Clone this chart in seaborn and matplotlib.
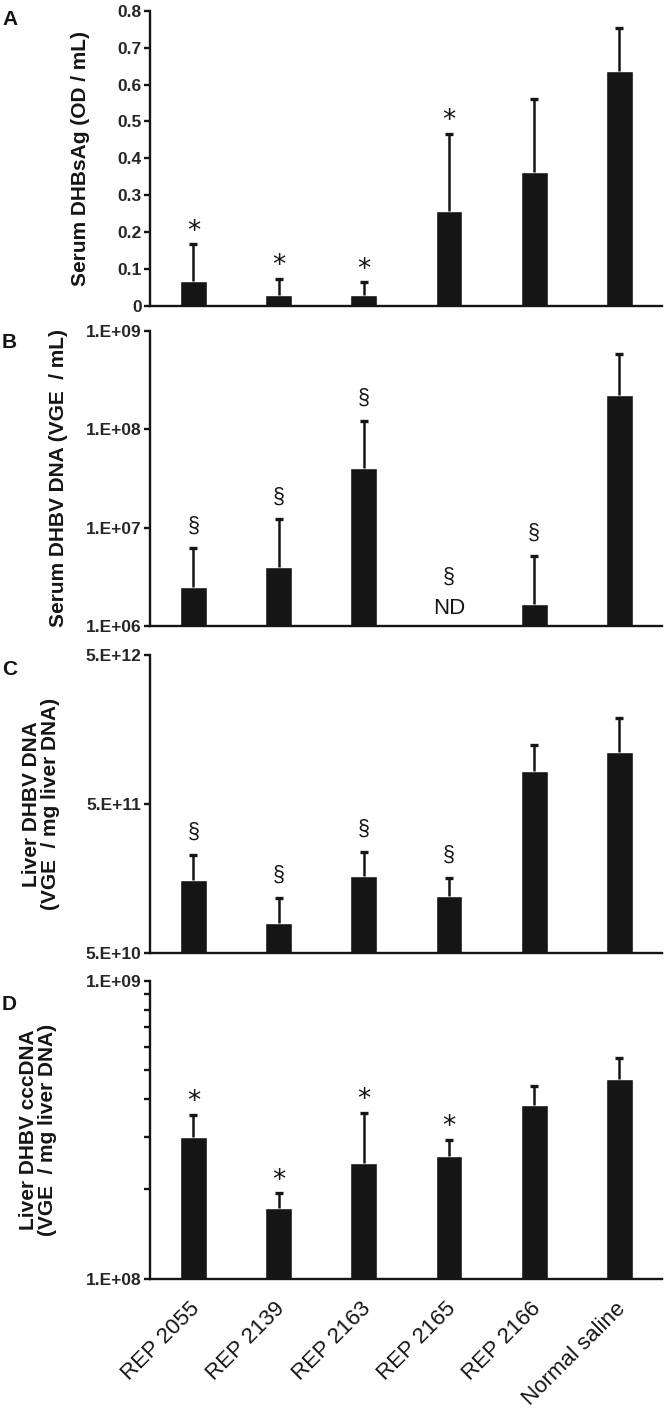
import numpy as np
import matplotlib
matplotlib.use('Agg')
import matplotlib.pyplot as plt
import matplotlib.ticker as mticker
import matplotlib.transforms as mtransforms
import seaborn as sns

sns.set_style('ticks')
plt.rcParams['font.family'] = ['Liberation Sans', 'DejaVu Sans']

groups = ['REP 2055', 'REP 2139', 'REP 2163', 'REP 2165', 'REP 2166', 'Normal saline']

# panel A - serum DHBsAg (OD / mL)
hbsag_mean = [0.069, 0.030, 0.030, 0.257, 0.363, 0.636]
hbsag_upper = [0.167, 0.074, 0.065, 0.466, 0.562, 0.753]
hbsag_marks = ['*', '*', '*', '*', '', '']

# panel B - serum DHBV DNA (VGE / mL), REP 2165 not detected
serum_dna_mean = [2.5e6, 4.0e6, 4.05e7, np.nan, 1.67e6, 2.2e8]
serum_dna_upper = [6.2e6, 1.22e7, 1.22e8, np.nan, 5.2e6, 5.8e8]
serum_dna_marks = ['§', '§', '§', '', '§', '']

# panel C - liver DHBV DNA (VGE / mg liver DNA)
liver_dna_mean = [1.54e11, 7.9e10, 1.64e11, 1.2e11, 8.35e11, 1.12e12]
liver_dna_upper = [2.27e11, 1.17e11, 2.39e11, 1.59e11, 1.24e12, 1.89e12]
liver_dna_marks = ['§', '§', '§', '§', '', '']

# panel D - liver DHBV cccDNA (VGE / mg liver DNA)
ccc_mean = [2.99e8, 1.73e8, 2.44e8, 2.58e8, 3.82e8, 4.68e8]
ccc_upper = [3.56e8, 1.94e8, 3.61e8, 2.93e8, 4.43e8, 5.49e8]
ccc_marks = ['*', '*', '*', '*', '', '']

BAR = '#151515'
W, H = 666, 1414
fig = plt.figure(figsize=(W / 100, H / 100), dpi=100)


def make_axes(top_px, bottom_px):
    left, right = 150, 662
    return fig.add_axes([left / W, 1 - bottom_px / H, (right - left) / W, (bottom_px - top_px) / H])


def draw_panel(ax, mean, upper, marks, log=False):
    sns.barplot(x=groups, y=mean, order=groups, color=BAR, saturation=1,
                width=0.313, errorbar=None, ax=ax, zorder=2)
    mean = np.array(mean, dtype=float)
    upper = np.array(upper, dtype=float)
    pos = np.arange(len(groups))
    ok = ~np.isnan(mean)
    # upper error bars only
    ax.errorbar(pos[ok], mean[ok], yerr=[np.zeros(ok.sum()), upper[ok] - mean[ok]],
                fmt='none', ecolor=BAR, elinewidth=1.8, capsize=0, zorder=3)
    ax.plot(pos[ok], upper[ok], ls='none', marker='_', ms=5.5, mew=2.4, color=BAR, zorder=3)
    if log:
        ax.set_yscale('log')
    for i, m in enumerate(marks):
        if not m or np.isnan(upper[i]):
            continue
        if m == '*':
            ax.annotate(m, xy=(i, upper[i]), xytext=(0, 9), textcoords='offset points',
                        ha='center', va='center', fontsize=19, color=BAR, family='DejaVu Sans')
        else:
            ax.annotate(m, xy=(i, upper[i]), xytext=(0, 16), textcoords='offset points',
                        ha='center', va='center', fontsize=15.5, color=BAR)
    ax.set_xlim(-0.51, 5.5)
    sns.despine(ax=ax)
    for s in ['left', 'bottom']:
        ax.spines[s].set_linewidth(1.7)
        ax.spines[s].set_color(BAR)
    ax.tick_params(axis='y', which='both', direction='out', length=4, width=1.7,
                   labelsize=12.5, pad=2, color=BAR)
    ax.tick_params(axis='x', length=0)
    ax.set_xlabel('')


axA = make_axes(10.7, 306)
axB = make_axes(330.7, 626)
axC = make_axes(655, 952.7)
axD = make_axes(980.7, 1279)

draw_panel(axA, hbsag_mean, hbsag_upper, hbsag_marks)
axA.set_ylim(0, 0.8)
axA.set_yticks(np.arange(0, 0.81, 0.1))
axA.yaxis.set_major_formatter(mticker.FuncFormatter(lambda v, p: f'{v:g}'))

draw_panel(axB, serum_dna_mean, serum_dna_upper, serum_dna_marks, log=True)
axB.set_ylim(1e6, 1e9)
axB.yaxis.set_major_locator(mticker.FixedLocator([1e6, 1e7, 1e8, 1e9]))
axB.yaxis.set_minor_locator(mticker.NullLocator())
axB.yaxis.set_major_formatter(mticker.FuncFormatter(lambda v, p: '1.E+%02d' % round(np.log10(v))))
axB.annotate('ND', xy=(3, 1e6), xytext=(0, 12.5), textcoords='offset points',
             ha='center', va='center', fontsize=16, color=BAR)
axB.annotate('§', xy=(3, 1e6), xytext=(0, 35), textcoords='offset points',
             ha='center', va='center', fontsize=15.5, color=BAR)

draw_panel(axC, liver_dna_mean, liver_dna_upper, liver_dna_marks, log=True)
axC.set_ylim(5e10, 5e12)
axC.yaxis.set_major_locator(mticker.FixedLocator([5e10, 5e11, 5e12]))
axC.yaxis.set_minor_locator(mticker.NullLocator())
axC.yaxis.set_major_formatter(mticker.FuncFormatter(lambda v, p: '5.E+%d' % round(np.log10(v / 5))))

draw_panel(axD, ccc_mean, ccc_upper, ccc_marks, log=True)
axD.set_ylim(1e8, 1e9)
axD.yaxis.set_major_locator(mticker.FixedLocator([1e8, 1e9]))
axD.yaxis.set_minor_locator(mticker.LogLocator(base=10, subs=np.arange(2, 10)))
axD.yaxis.set_minor_formatter(mticker.NullFormatter())
axD.yaxis.set_major_formatter(mticker.FuncFormatter(lambda v, p: '1.E+%02d' % round(np.log10(v))))

for ax in [axA, axB, axC, axD]:
    for t in ax.get_yticklabels():
        t.set_fontweight('bold')

for ax in [axA, axB, axC]:
    ax.set_xticklabels([])

axD.set_xticks(range(len(groups)))
axD.set_xticklabels(groups, rotation=45, ha='right', va='top', rotation_mode='anchor',
                    fontsize=16, color=BAR)
axD.tick_params(axis='x', pad=14)
shift = mtransforms.ScaledTranslation(-0.04, 0, fig.dpi_scale_trans)
for t in axD.get_xticklabels():
    t.set_transform(t.get_transform() + shift)

ylabels = [
    (axA, 'Serum DHBsAg (OD / mL)', -0.117),
    (axB, 'Serum DHBV DNA (VGE  / mL)', -0.160),
    (axC, 'Liver DHBV DNA\n(VGE  / mg liver DNA)', -0.176),
    (axD, 'Liver DHBV cccDNA\n(VGE  / mg liver DNA)', -0.182),
]
for ax, txt, xpos in ylabels:
    ax.set_ylabel(txt, fontsize=15, fontweight='bold', color=BAR, linespacing=1.0)
    ax.yaxis.set_label_coords(xpos, 0.5)

for letter, ypx in [('A', 10), ('B', 333), ('C', 660), ('D', 995)]:
    fig.text(2 / W, 1 - ypx / H, letter, fontsize=15, fontweight='bold', va='top', ha='left', color=BAR)

fig.savefig('out.png', dpi=100)
